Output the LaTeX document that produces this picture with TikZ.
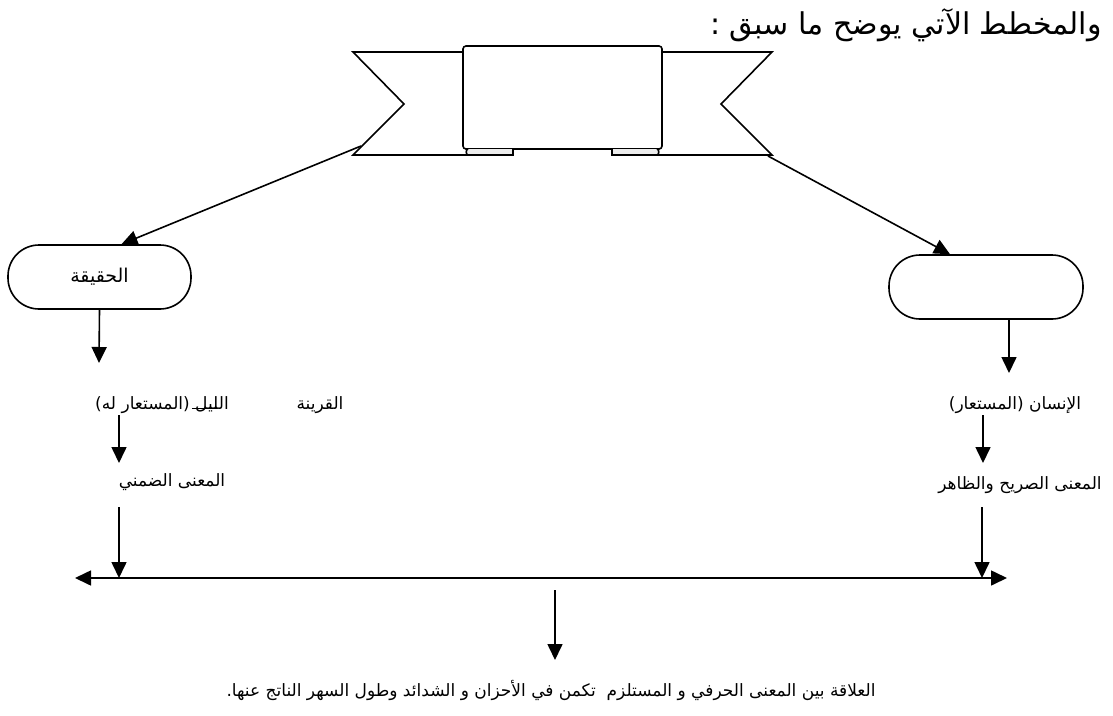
\documentclass[tikz,border=0pt]{standalone}
\usepackage{fontspec}
\newfontfamily\arabicfont[Script=Arabic]{DejaVu Sans}
\TeXXeTstate=1
\usetikzlibrary{arrows.meta,positioning,calc}

\begin{document}
\begin{tikzpicture}[x=1pt,y=-1pt,
    edge/.style={line width=1.6pt},
    flow/.style={edge,-{Triangle[width=15pt,length=16pt]}},
    capsule/.style={draw,edge,rounded corners=31pt,minimum height=64pt,inner sep=0pt},
    lbl/.style={font=\arabicfont\fontsize{17}{20}\selectfont,inner sep=1pt},
    headline/.style={font=\arabicfont\fontsize{30}{36}\selectfont,inner sep=1pt}]
    \useasboundingbox (0,0) rectangle (1113,715);

    %% title and ribbon
    \node[headline] (title) at (906,25) {\beginR والمخطط الآتي يوضح ما سبق :\endR};
    \draw[edge] (480,52) -- (353,52) -- (404,104) -- (353,155) -- (513,155) -- (513,149);
    \draw[edge] (645,52) -- (772,52) -- (721,104) -- (772,155) -- (612,155) -- (612,149);
    \node[draw,edge,fill=white,rounded corners=3pt,minimum width=199pt,minimum height=103pt,inner sep=0pt] (banner) at (562.5,97.5) {};
    \draw[edge,fill=gray!15] (513,149) -- (513,155) -- (468,155) to[out=180,in=180] (468,149);
    \draw[edge,fill=gray!15] (612,149) -- (612,155) -- (657,155) to[out=0,in=0] (657,149);

    %% the two sides
    \node[capsule,minimum width=183pt] (haqiqa) at (99.5,277) {\arabicfont\fontsize{19}{22}\selectfont\beginR الحقيقة\endR};
    \node[capsule,minimum width=194pt] (majaz) at (986,287) {};
    \coordinate (lt) at (361,146);
    \coordinate (rt) at (768,156);
    \draw[flow] (lt) -- ([xshift=22pt]haqiqa.north);
    \draw[flow] (rt) -- ([xshift=-36pt]majaz.north);

    %% left column
    \node[lbl] (layl) at (162,405) {\beginR الليل (المستعار له)\endR};
    \node[lbl] (qarina) at (320,405) {\beginR القرينة\endR};
    \node[lbl] (dimni) at (172,482) {\beginR المعنى الضمني\endR};
    \draw[edge,line width=.8pt] (192,408) -- (217,408);
    \coordinate (l1) at (99,363);
    \coordinate (l2) at (119,415);
    \coordinate (l3) at (119,463);
    \coordinate (l4) at (119,507);

    %% right column
    \node[lbl] (insan) at (1015,405) {\beginR الإنسان (المستعار)\endR};
    \node[lbl] (sarih) at (1020,485) {\beginR المعنى الصريح والظاهر\endR};
    \coordinate (r1) at (1009,373);
    \coordinate (r2) at (983,415);
    \coordinate (r3) at (983,463);
    \coordinate (r4) at (982,507);

    %% common line and result
    \coordinate (hl) at (75,578);
    \coordinate (hr) at (1007,578);
    \coordinate (m1) at (555,590);
    \coordinate (m2) at (555,660);
    \node[lbl] (alaqa) at (551,690) {\beginR العلاقة بين المعنى الحرفي و المستلزم \ تكمن في الأحزان و الشدائد وطول السهر الناتج عنها.\endR};

    \draw[flow] (haqiqa.south) -- (l1);
    \draw[flow] (l2) -- (l3);
    \draw[flow] (l4) -- (l4 |- hl);
    \draw[flow] ([xshift=23pt]majaz.south) -- (r1);
    \draw[flow] (r2) -- (r3);
    \draw[flow] (r4) -- (r4 |- hl);
    \draw[edge,{Triangle[width=15pt,length=16pt]}-{Triangle[width=15pt,length=16pt]}] (hl) -- (hr);
    \draw[flow] (m1) -- (m2);
\end{tikzpicture}
\end{document}
